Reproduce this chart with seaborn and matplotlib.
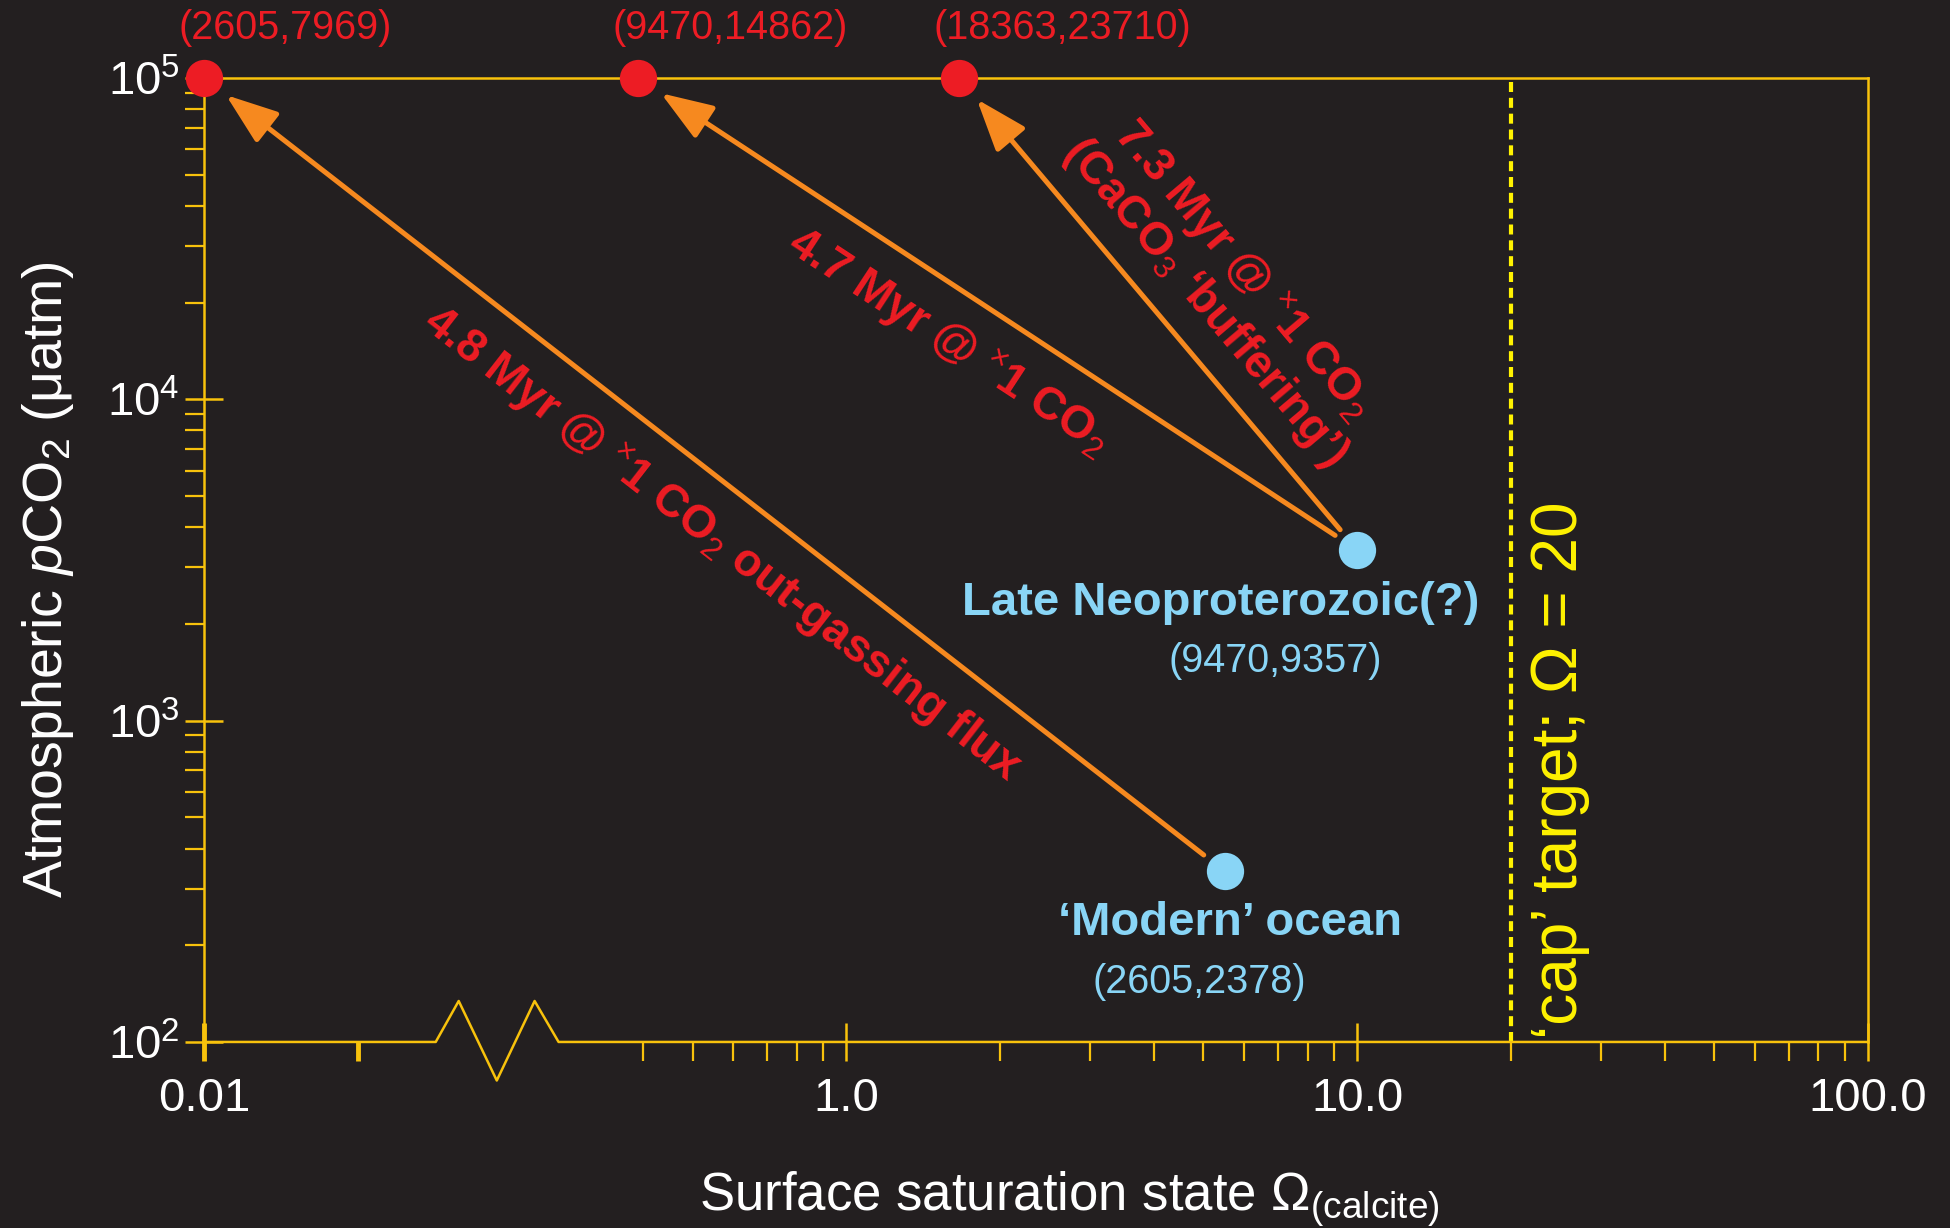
import numpy as np
import pandas as pd
import matplotlib
matplotlib.use("Agg")
import matplotlib.pyplot as plt
from matplotlib.ticker import NullFormatter
import seaborn as sns

# ---------------- data ----------------
start_names = ["‘Modern’ ocean", "Late Neoproterozoic(?)"]
start_omega = [5.5, 10.0]
start_pco2 = [340.0, 3400.0]
start_coords = ["(2605,2378)", "(9470,9357)"]

end_omega = [0.01, 0.39, 1.66]
end_pco2 = [1.0e5, 1.0e5, 1.0e5]
end_coords = ["(2605,7969)", "(9470,14862)", "(18363,23710)"]

path_start = [0, 1, 1]  # which starting state each trajectory leaves from
path_text = [
    "4.8 Myr @ $^{\\times}$1 CO$_2$ out-gassing flux",
    "4.7 Myr @ $^{\\times}$1 CO$_2$",
    "7.3 Myr @ $^{\\times}$1 CO$_2$\n(CaCO$_3$ ‘buffering’)",
]
cap_omega = 20.0

x_major = [0.01, 1.0, 10.0, 100.0]
x_major_labels = ["0.01", "1.0", "10.0", "100.0"]
x_minor = [0.02, 0.4, 0.5, 0.6, 0.7, 0.8, 0.9,
           2, 3, 4, 5, 6, 7, 8, 9, 20, 30, 40, 50, 60, 70, 80, 90]
y_major = [1e2, 1e3, 1e4, 1e5]
y_major_labels = ["$10^2$", "$10^3$", "$10^4$", "$10^5$"]

# ---------------- style ----------------
BG = "#231f20"
GOLD = "#f8c20c"
YELLOW = "#fff200"
RED = "#ed1c24"
ORANGE = "#f6891f"
BLUE = "#89d5f6"

sns.set_theme(style="ticks", rc={
    "figure.facecolor": BG, "axes.facecolor": BG, "savefig.facecolor": BG,
    "axes.edgecolor": GOLD, "axes.linewidth": 1.8,
    "xtick.color": GOLD, "ytick.color": GOLD,
    "xtick.labelcolor": "white", "ytick.labelcolor": "white",
    "text.color": "white", "axes.labelcolor": "white",
})
plt.rcParams["font.family"] = ["Liberation Sans", "DejaVu Sans"]
plt.rcParams["mathtext.fontset"] = "custom"
plt.rcParams["mathtext.rm"] = "Liberation Sans"
plt.rcParams["mathtext.it"] = "Liberation Sans:italic"
plt.rcParams["mathtext.bf"] = "Liberation Sans:bold"

# ---------------- broken log x-axis ----------------
BREAK_LO, BREAK_HI = 0.02843, 0.2731   # span squeezed into the axis break
OFF = 0.742                           # decades removed by the break
L_LO, L_HI = np.log10(BREAK_LO), np.log10(BREAK_HI)
U_LO, U_HI = L_LO + OFF, L_HI


def _fwd(x):
    lx = np.log10(np.maximum(np.asarray(x, dtype=float), 1e-12))
    mid = U_LO + (lx - L_LO) * (U_HI - U_LO) / (L_HI - L_LO)
    return np.where(lx <= L_LO, lx + OFF, np.where(lx >= L_HI, lx, mid))


def _inv(u):
    u = np.asarray(u, dtype=float)
    mid = L_LO + (u - U_LO) * (L_HI - L_LO) / (U_HI - U_LO)
    return 10.0 ** np.where(u <= U_LO, u - OFF, np.where(u >= U_HI, u, mid))


fig = plt.figure(figsize=(19.5, 12.28), dpi=100)
ax = fig.add_axes([0.1046, 0.1515, 0.8533, 0.785])
ax.set_xscale("function", functions=(_fwd, _inv))
ax.set_yscale("log")
ax.set_xlim(0.01, 100)
ax.set_ylim(1e2, 1e5)

# ---------------- points ----------------
starts = pd.DataFrame({"omega": start_omega, "pco2": start_pco2})
ends = pd.DataFrame({"omega": end_omega, "pco2": end_pco2})
sns.scatterplot(data=ends, x="omega", y="pco2", ax=ax, color=RED, s=720,
                linewidth=0, zorder=6, clip_on=False, legend=False)
sns.scatterplot(data=starts, x="omega", y="pco2", ax=ax, color=BLUE, s=720,
                linewidth=0, zorder=6, clip_on=False, legend=False)
ax.set_xlim(0.01, 100)
ax.set_ylim(1e2, 1e5)

# trajectories
for k, j in enumerate(path_start):
    ax.annotate("", xy=(end_omega[k], end_pco2[k]),
                xytext=(start_omega[j], start_pco2[j]),
                arrowprops=dict(arrowstyle="-|>,head_length=1.6,head_width=0.58",
                                mutation_scale=20, color=ORANGE, lw=3.6,
                                shrinkA=19, shrinkB=20),
                zorder=4)


def screen_angle(x0, y0, x1, y1):
    p0 = ax.transData.transform((x0, y0))
    p1 = ax.transData.transform((x1, y1))
    return np.degrees(np.arctan2(p1[1] - p0[1], p1[0] - p0[0]))


# trajectory labels, laid along each arrow
text_pos = [(0.570, 3520), (1.58, 15100), (5.49, 22500)]
for k, j in enumerate(path_start):
    ang = screen_angle(start_omega[j], start_pco2[j], end_omega[k], end_pco2[k]) - 180
    ax.text(text_pos[k][0], text_pos[k][1], path_text[k], color=RED,
            fontsize=33, fontweight="bold", rotation=ang,
            rotation_mode="anchor", ha="center", va="center",
            multialignment="center", linespacing=1.05, zorder=5)

# coordinate labels on the end points
for k in range(len(end_omega)):
    ax.annotate(end_coords[k], xy=(end_omega[k], end_pco2[k]),
                xytext=(-18, 36), textcoords="offset points",
                ha="left", va="center", color=RED, fontsize=28.5,
                annotation_clip=False)

# names and coordinates of the starting states
name_offsets = [(4, -37), (-98, -38)]
coord_offsets = [(-18, -80), (-59, -80)]
for j in range(len(start_omega)):
    ax.annotate(start_names[j], xy=(start_omega[j], start_pco2[j]),
                xytext=name_offsets[j], textcoords="offset points",
                ha="center", va="center", color=BLUE, fontsize=34,
                fontweight="bold")
    ax.annotate(start_coords[j], xy=(start_omega[j], start_pco2[j]),
                xytext=coord_offsets[j], textcoords="offset points",
                ha="center", va="center", color=BLUE, fontsize=28.5)

# cap-carbonate target
ax.axvline(cap_omega, color=YELLOW, lw=3.0, linestyle=(0, (2.4, 1.4)), zorder=3)
ax.text(24.9, 700, "‘cap’ target; Ω = 20", rotation=90, color=YELLOW,
        fontsize=46, ha="center", va="center")

# ---------------- axes ----------------
ax.set_xticks(x_major, labels=x_major_labels)
ax.set_xticks(x_minor, minor=True)
ax.set_yticks(y_major, labels=y_major_labels)
ax.xaxis.set_minor_formatter(NullFormatter())
ax.yaxis.set_minor_formatter(NullFormatter())
ax.tick_params(which="major", direction="inout", length=27, width=1.8,
               color=GOLD, labelsize=34, labelcolor="white")
ax.tick_params(which="minor", direction="out", length=14, width=1.6, color=GOLD)
ax.tick_params(axis="x", which="major", pad=12)
ax.tick_params(axis="y", which="major", pad=4)
ax.tick_params(top=False, right=False, which="both")
ax.xaxis.get_minor_ticks()[0].tick1line.set_markeredgewidth(3.5)
ax.xaxis.get_major_ticks()[0].tick1line.set_markeredgewidth(3.5)

for side in ["left", "top", "right"]:
    ax.spines[side].set_color(GOLD)
    ax.spines[side].set_linewidth(1.8)
ax.spines["bottom"].set_visible(False)

# bottom axis line with the break symbol
def axfrac(x):
    return ax.transAxes.inverted().transform(ax.transData.transform((x, 1e3)))[0]


a, b = axfrac(BREAK_LO), axfrac(BREAK_HI)
w = b - a
zx = [0, a, a + 0.187 * w, a + 0.497 * w, a + 0.805 * w, b, 1]
zy = [0, 0, 0.0425, -0.040, 0.0425, 0, 0]
ax.plot(zx, zy, color=GOLD, lw=1.8, transform=ax.transAxes, clip_on=False,
        zorder=3)

ax.set_xlabel("Surface saturation state Ω$_{\\mathrm{(calcite)}}$",
              fontsize=38, labelpad=30)
ax.xaxis.set_label_coords(0.52, -0.132, transform=ax.transAxes)
ax.xaxis.label.set_va("top")
ax.set_ylabel("Atmospheric $p$CO$_2$ ($\\mathrm{\\mu}$atm)", fontsize=40,
              labelpad=24)
ax.yaxis.set_label_coords(-0.077, 0.48, transform=ax.transAxes)

fig.savefig("out.png", dpi=100, facecolor=BG)
